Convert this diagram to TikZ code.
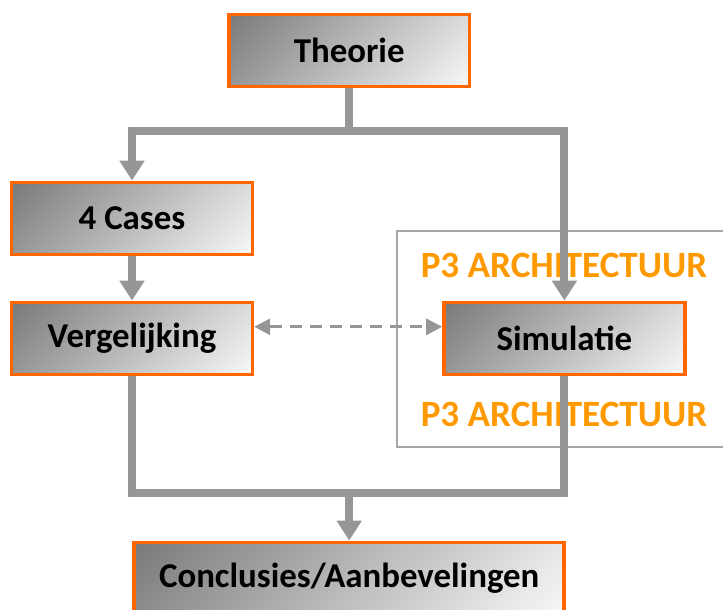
\documentclass[tikz,border=0pt]{standalone}
\usepackage{fontspec}
\setmainfont{Carlito}
\usetikzlibrary{arrows.meta,positioning,backgrounds}
\definecolor{boxorange}{HTML}{FF6600}
\definecolor{labelorange}{HTML}{FF9900}
\definecolor{linegray}{HTML}{969696}
\definecolor{framegray}{HTML}{A6A6A6}
% dark top-left corner to light bottom-right corner
\pgfdeclareverticalshading{boxshade}{100bp}{color(0bp)=(white!97!black); color(15bp)=(white!97!black); color(85bp)=(black!52); color(100bp)=(black!52)}

\begin{document}
\begin{tikzpicture}[
  x=1cm, y=1cm,
  stepbox/.style={draw=boxorange, line width=2.6pt, minimum width=6.02cm, minimum height=1.8cm, align=center, shade, shading=boxshade, shading angle=45, font=\fontsize{24.8}{28}\selectfont\bfseries},
  p3label/.style={text=labelorange, font=\fontsize{26.4}{30}\selectfont\bfseries},
  flow/.style={-{Triangle[width=6mm,length=5mm]}, line width=0.2cm, draw=linegray},
  link/.style={line width=0.2cm, draw=linegray},
  compare/.style={{Triangle[width=4mm,length=4mm]}-{Triangle[width=4mm,length=4mm]}, line width=0.07cm, draw=linegray, dash pattern=on 0.3cm off 0.2cm}
]
\useasboundingbox (0,0) rectangle (18.075,-15.25);
\clip (0,0) rectangle (18.075,-15.25);

\node[stepbox] (theorie)      at (8.73, -1.26)  {Theorie};
\node[stepbox] (cases)        at (3.3, -5.46)   {4 Cases};
\node[stepbox] (vergelijking) at (3.3, -8.46)   {Vergelijking};
\node[stepbox] (simulatie)    at (14.11, -8.46) {Simulatie};
\node[stepbox, minimum width=10.75cm] (conclusies) at (8.73, -14.46) {Conclusies/Aanbevelingen};

\coordinate (split) at (8.73, -3.28);
\coordinate (merge) at (8.73, -12.33);

\begin{scope}[on background layer]
  % P3 frame with its two labels, under the lines
  \draw[framegray, line width=0.05cm] (9.925, -5.775) rectangle (18.4, -11.175);
  \node[p3label] (archtop)    at (14.1, -6.64)  {P3 ARCHITECTUUR};
  \node[p3label] (archbottom) at (14.1, -10.36) {P3 ARCHITECTUUR};

  \draw[link] (theorie.south) -- (split);
  \draw[flow] (split) -| (cases.north);
  \draw[flow] (split) -| (simulatie.north);
  \draw[flow] (cases) -- (vergelijking);
  \draw[link] (vergelijking.south) |- (merge) -| (simulatie.south);
  \draw[flow] (merge) -- (conclusies.north);
  \draw[compare] ([yshift=0.29cm]vergelijking.east) -- ([yshift=0.29cm]simulatie.west);
\end{scope}
\end{tikzpicture}
\end{document}
